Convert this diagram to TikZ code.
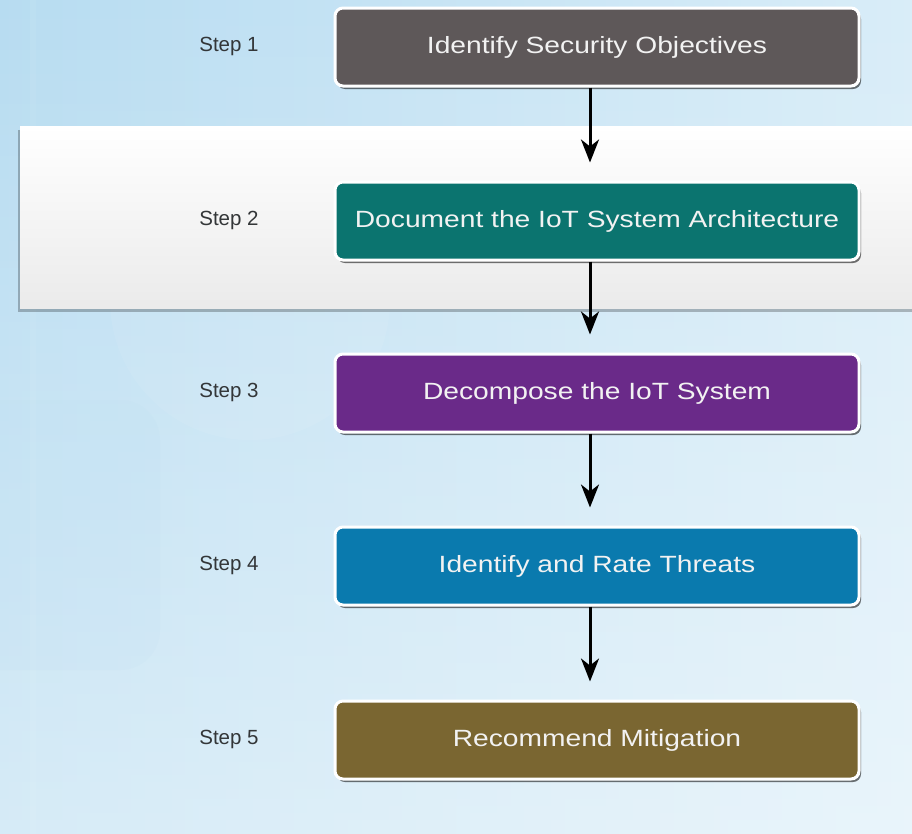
\documentclass[tikz,border=0pt]{standalone}
\usepackage{graphicx}
\usepackage{fontspec}
\setmainfont{Liberation Sans}
\usetikzlibrary{shadows,arrows.meta,fadings}
\definecolor{bgL}{HTML}{B7DCF1}
\definecolor{bgR}{HTML}{D9EDF8}
\definecolor{cA}{HTML}{5E5859}
\definecolor{cB}{HTML}{0B746F}
\definecolor{cC}{HTML}{6A2A89}
\definecolor{cD}{HTML}{0A7AAE}
\definecolor{cE}{HTML}{7A6631}
\definecolor{steptxt}{HTML}{333638}
\definecolor{boxtxt}{HTML}{F2F2F2}
\newcommand{\wide}[1]{\scalebox{1.2}[1]{#1}}
\tikzset{
  stepbox/.style={rectangle, rounded corners=8pt, draw=white, line width=3pt,
    minimum width=524pt, minimum height=78pt, text=boxtxt,
    font=\fontsize{23.5}{26}\selectfont,
    drop shadow={shadow xshift=2pt, shadow yshift=-3pt, opacity=0.55, fill=black}},
  steplabel/.style={text=steptxt, font=\fontsize{20.5}{24}\selectfont},
  flow/.style={line width=3pt, shorten >=18pt,
    -{Stealth[length=23pt, width=18pt, inset=7pt]}}
}
\begin{document}
\begin{tikzpicture}[x=1pt,y=-1pt]
\useasboundingbox (0,0) rectangle (912,833);
% background
\fill[left color=bgL, right color=bgR] (-5,-5) rectangle (917,838);
\fill[white, path fading=north, opacity=0.45] (-5,-5) rectangle (917,860);
\fill[white, opacity=0.07] (250,300) circle (140);
\fill[bgL, opacity=0.1, rounded corners=40pt] (-40,400) rectangle (160,670);
\fill[white, opacity=0.06] (30,-5) rectangle (36,838);
% highlight band
\fill[black, opacity=0.25] (18,130) rectangle (917,312);
\shade[top color=white, bottom color=white!92!black] (20,126) rectangle (917,308);
% boxes
\node[stepbox, fill=cA] (b1) at (597,47) {\wide{Identify Security Objectives}};
\node[stepbox, fill=cB] (b2) at (597,221) {\wide{Document the IoT System Architecture}};
\node[stepbox, fill=cC] (b3) at (597,393) {\wide{Decompose the IoT System}};
\node[stepbox, fill=cD] (b4) at (597,566) {\wide{Identify and Rate Threats}};
\node[stepbox, fill=cE] (b5) at (597,740) {\wide{Recommend Mitigation}};
% labels
\node[steplabel] (s1) at (229,46) {Step 1};
\node[steplabel] (s2) at (229,220) {Step 2};
\node[steplabel] (s3) at (229,392) {Step 3};
\node[steplabel] (s4) at (229,565) {Step 4};
\node[steplabel] (s5) at (229,739) {Step 5};
% arrows
\coordinate (ax) at (590,0);
\draw[flow] (b1.south -| ax) -- (b2.north -| ax);
\draw[flow] (b2.south -| ax) -- (b3.north -| ax);
\draw[flow] (b3.south -| ax) -- (b4.north -| ax);
\draw[flow] (b4.south -| ax) -- (b5.north -| ax);
\end{tikzpicture}
\end{document}
